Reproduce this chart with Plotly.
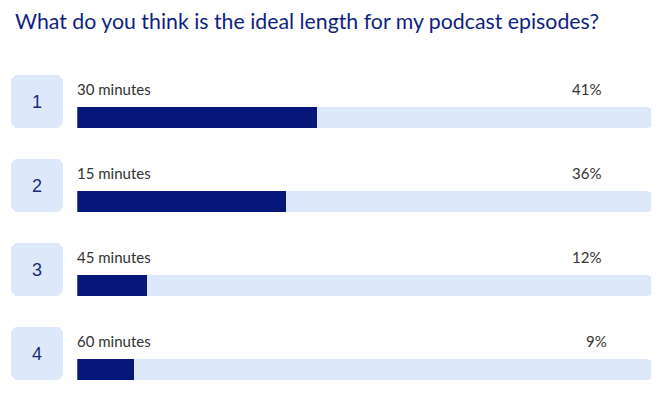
import plotly.graph_objects as go

# ---- data ----
ranks = ["1", "2", "3", "4"]
options = ["30 minutes", "15 minutes", "45 minutes", "60 minutes"]
shares = [41.8, 36.4, 12.2, 10.0]         # bar lengths (%)
pct_labels = ["41%", "36%", "12%", "9%"]  # labels as displayed
title_text = "What do you think is the ideal length for my podcast episodes?"

# ---- style / layout constants (pixels) ----
W, H = 664, 394
TRACK_X0, TRACK_X1 = 77.3, 651.7
ROW0_CENTER, ROW_STEP = 117.8, 84.0   # centre of first bar, row spacing
BAR_H = 21.0
BOX_X0, BOX_W = 11.0, 52.0
BOX_Y0, BOX_Y1 = 75.0, 128.0          # relative to row 0
LABEL_Y = 88.5
NUM_Y = 102.0
PCT_RIGHT = 601.7

NAVY = "#061679"
TITLE_C = "#0f1f80"
LIGHT = "#dde9fb"
TEXT_C = "#333333"

rows = list(range(len(options)))


def py_to_y(py):
    return (py - ROW0_CENTER) / ROW_STEP


y_top = py_to_y(0)
y_bot = py_to_y(H)

fig = go.Figure()

# rank boxes (full-width pixel subplot x2/y2)
fig.add_trace(go.Bar(
    y=rows, x=[BOX_W] * len(rows), base=[BOX_X0] * len(rows), orientation="h",
    xaxis="x2", yaxis="y2",
    width=(BOX_Y1 - BOX_Y0) / ROW_STEP, offset=py_to_y(BOX_Y0),
    marker=dict(color=LIGHT, cornerradius=7, line=dict(width=0)),
    hoverinfo="skip", showlegend=False,
))

# tracks
fig.add_trace(go.Bar(
    y=rows, x=[100] * len(rows), orientation="h",
    width=BAR_H / ROW_STEP,
    marker=dict(color=LIGHT, cornerradius=4, line=dict(width=0)),
    hoverinfo="skip", showlegend=False,
))

# filled values
fig.add_trace(go.Bar(
    y=rows, x=shares, orientation="h",
    width=BAR_H / ROW_STEP,
    marker=dict(color=NAVY, cornerradius=4, line=dict(width=0)),
    hoverinfo="skip", showlegend=False,
))

annotations = []
annotations.append(dict(
    text=title_text, xref="paper", yref="paper", x=12.5 / W, y=1 - 21.3 / H,
    xanchor="left", yanchor="middle", showarrow=False,
    font=dict(family="Lato", size=21.3, color=TITLE_C),
))
for i, (r, opt, pl) in enumerate(zip(ranks, options, pct_labels)):
    off = i * ROW_STEP
    annotations.append(dict(
        text=r, xref="paper", yref="paper", x=(BOX_X0 + BOX_W / 2) / W,
        y=1 - (NUM_Y + off) / H, xanchor="center", yanchor="middle",
        showarrow=False, font=dict(family="Liberation Sans", size=18, color="#1b2a78"),
    ))
    annotations.append(dict(
        text=opt, xref="paper", yref="paper", x=(TRACK_X0 - 2.5) / W,
        y=1 - (LABEL_Y + off) / H, xanchor="left", yanchor="middle",
        showarrow=False, font=dict(family="Lato", size=15, color=TEXT_C),
    ))
    shift = 6.0 * (3 - len(pl))
    annotations.append(dict(
        text=pl, xref="paper", yref="paper", x=(PCT_RIGHT + 1 + shift) / W,
        y=1 - (LABEL_Y + off) / H, xanchor="right", yanchor="middle",
        showarrow=False, font=dict(family="Lato", size=15, color=TEXT_C),
    ))

fig.update_layout(
    width=W, height=H, margin=dict(l=0, r=0, t=0, b=0, pad=0),
    paper_bgcolor="white", plot_bgcolor="rgba(0,0,0,0)",
    barmode="overlay", bargap=0,
    xaxis=dict(domain=[TRACK_X0 / W, TRACK_X1 / W], range=[0, 100], visible=False,
               fixedrange=True),
    yaxis=dict(range=[y_bot, y_top], visible=False, fixedrange=True),
    xaxis2=dict(domain=[0, 1], range=[0, W], anchor="y2", visible=False,
                fixedrange=True),
    yaxis2=dict(domain=[0, 1], range=[y_bot, y_top], anchor="x2", visible=False,
                fixedrange=True),
    annotations=annotations,
    showlegend=False,
)

fig.write_html("out.html", config={"displayModeBar": False},
               post_script="document.body.style.margin='0';")
